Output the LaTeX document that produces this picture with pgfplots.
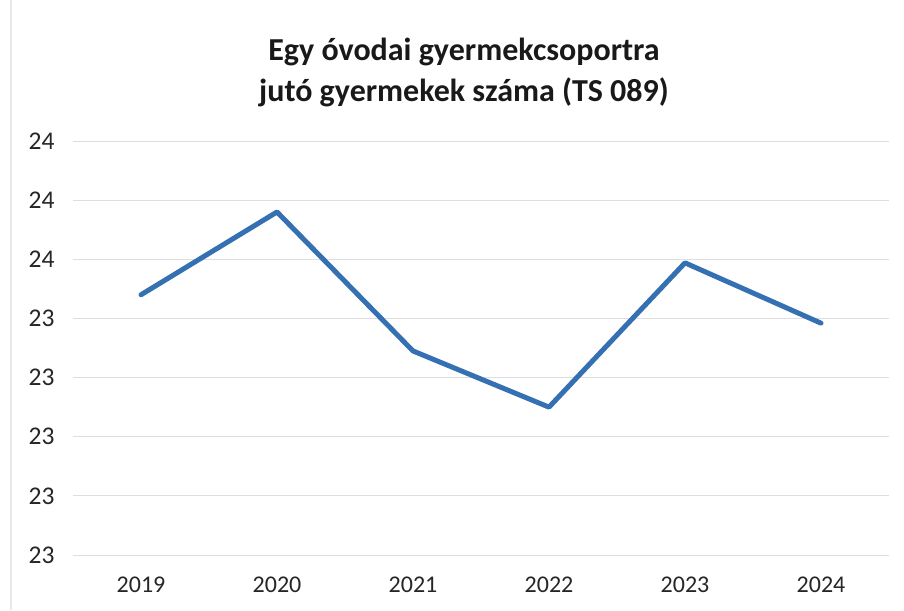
\documentclass[border=0pt]{standalone}
\usepackage{pgfplots}
\pgfplotsset{compat=1.18}
\usepackage{fontspec}
\setmainfont{Carlito}
\definecolor{lineblue}{RGB}{52,112,178}
\definecolor{gridgray}{RGB}{222,222,222}
\begin{document}
\begin{tikzpicture}[x=1pt,y=1pt]
\path[use as bounding box] (0,0) rectangle (904,610);
\draw[gridgray!70, line width=1.2pt] (11,0) -- (11,610);
\node[font=\fontsize{32}{40}\selectfont\bfseries, text=black!90, anchor=base, inner sep=0pt] at (464,549) {Egy óvodai gyermekcsoportra};
\node[font=\fontsize{32}{40}\selectfont\bfseries, text=black!90, anchor=base, inner sep=0pt] at (464,508) {jutó gyermekek száma (TS 089)};
\begin{axis}[
  at={(73pt,55pt)}, anchor=south west,
  scale only axis, width=816pt, height=414pt,
  xmin=-0.5, xmax=5.5, ymin=23.0, ymax=23.7,
  xtick={0,1,2,3,4,5},
  xticklabels={2019,2020,2021,2022,2023,2024},
  ytick={23.0,23.1,23.2,23.3,23.4,23.5,23.6,23.7},
  yticklabel={\pgfmathparse{round(\tick)}\pgfmathprintnumber[fixed,precision=0]{\pgfmathresult}},
  axis line style={draw=none},
  major tick length=0pt,
  ymajorgrids, grid style={gridgray, line width=0.9pt},
  yticklabel style={anchor=east, xshift=-15pt, font=\fontsize{25.5}{28}\selectfont, text=black!85},
  xticklabel style={anchor=north, yshift=-18pt, font=\fontsize{24}{28}\selectfont, text=black!85},
  /pgf/number format/assume math mode=true,
  clip=false,
]
\addplot[lineblue, line width=5pt, line join=round, line cap=round] coordinates {
  (0,23.44) (1,23.58) (2,23.345) (3,23.25) (4,23.494) (5,23.392)
};
\end{axis}
\end{tikzpicture}
\end{document}
